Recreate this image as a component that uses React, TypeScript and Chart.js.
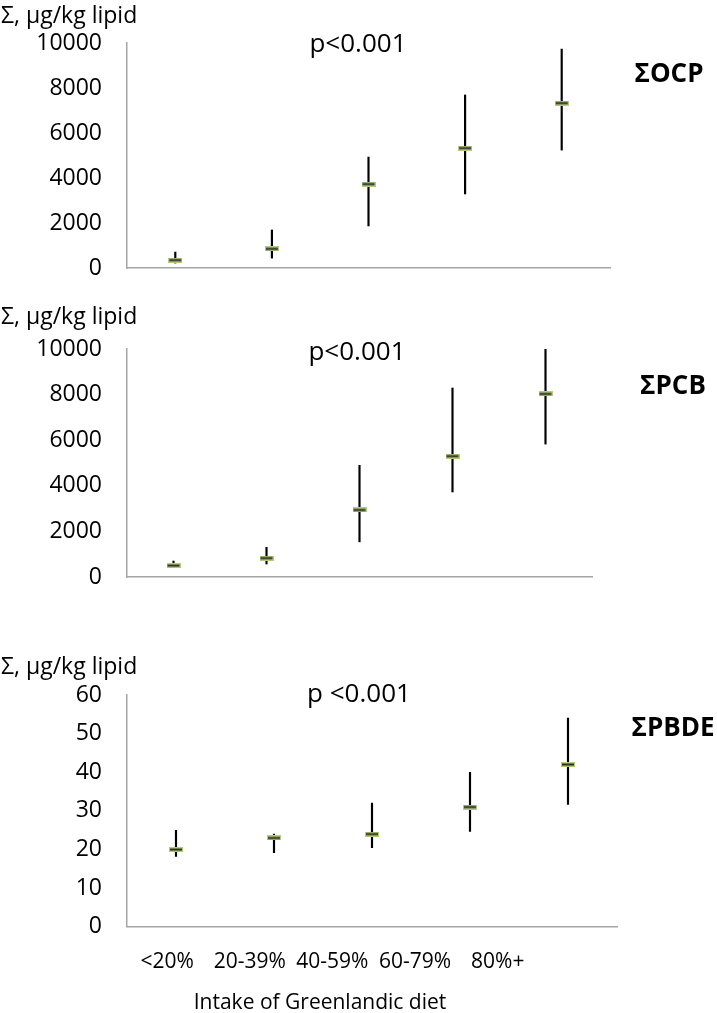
import React, { useEffect, useRef } from "react";
import { Chart, registerables } from "chart.js";
Chart.register(...registerables);

const categories = ["<20%", "20-39%", "40-59%", "60-79%", "80%+"];

const ocpMean = [350, 850, 3730, 5330, 7330];
const ocpLow = [220, 440, 1870, 3290, 5240];
const ocpHigh = [710, 1690, 4930, 7690, 9730];

const pcbMean = [500, 830, 2940, 5300, 8030];
const pcbLow = [440, 570, 1540, 3730, 5830];
const pcbHigh = [700, 1300, 4900, 8290, 10000];

const pbdeMean = [20, 23, 24, 31, 42];
const pbdeLow = [18.2, 19.2, 20.5, 24.7, 31.7];
const pbdeHigh = [25, 24, 32, 40, 54];

const yAxisLabel = "Σ, µg/kg lipid";
const pLabels = ["p<0.001", "p<0.001", "p <0.001"];
const seriesNames = ["ΣOCP", "ΣPCB", "ΣPBDE"];
const xTitle = "Intake of Greenlandic diet";

const FONT = "'Open Sans', sans-serif";

function makeMarker(): HTMLCanvasElement {
  const c = document.createElement("canvas");
  c.width = 14;
  c.height = 5;
  const ctx = c.getContext("2d")!;
  ctx.fillStyle = "#b3cb7c";
  ctx.fillRect(0, 0, 14, 5);
  ctx.fillStyle = "#2a2d1c";
  ctx.fillRect(1, 1.5, 12, 2);
  return c;
}

type PanelProps = {
  top: number;
  height: number;
  pad: { top: number; right: number; bottom: number };
  mean: number[];
  low: number[];
  high: number[];
  yMax: number;
  yStep: number;
  showX: boolean;
};

const zeroPad = (axis: any) => {
  axis.paddingTop = 0;
  axis.paddingBottom = 0;
  axis.paddingLeft = 0;
  axis.paddingRight = 0;
};

function Panel(p: PanelProps) {
  const ref = useRef<HTMLCanvasElement>(null);
  useEffect(() => {
    if (!ref.current) return;
    const marker = makeMarker();
    const scales: any = {
      x: {
        type: "category",
        offset: true,
        grid: { display: false, drawTicks: false },
        border: { display: true, color: "#a6a6a6", width: 1.5 },
        ticks: { display: false },
        afterFit: zeroPad,
      },
      y: {
        min: 0,
        max: p.yMax,
        grid: { display: false, drawTicks: false },
        border: { display: true, color: "#a6a6a6", width: 1.5 },
        ticks: {
          stepSize: p.yStep,
          color: "#000",
          padding: 25,
          font: { family: FONT, size: 23 },
          callback: (v: any) => String(v),
        },
        afterFit: (axis: any) => {
          axis.width = 127;
          zeroPad(axis);
        },
      },
    };
    if (p.showX) {
      scales.x2 = {
        type: "linear",
        position: "bottom",
        bounds: "data",
        offset: false,
        min: -0.485,
        max: 5.443,
        grid: { display: false, drawTicks: false, offset: false },
        border: { display: false },
        afterBuildTicks: (axis: any) => {
          axis.ticks = categories.map((_, i) => ({ value: i }));
        },
        afterFit: zeroPad,
        ticks: {
          autoSkip: false,
          maxRotation: 0,
          color: "#000",
          padding: 23,
          font: { family: FONT, size: 21 },
          callback: (v: any) => categories[v as number] ?? "",
        },
      };
    }
    const chart = new Chart(ref.current, {
      type: "bar",
      data: {
        labels: categories,
        datasets: [
          {
            type: "line",
            data: p.mean,
            showLine: false,
            pointStyle: marker as any,
            pointRadius: 7,
            order: 0,
          } as any,
          {
            type: "bar",
            data: p.low.map((l, i) => [l, p.high[i]]),
            backgroundColor: "#000",
            borderWidth: 0,
            barThickness: 1.5,
            order: 1,
          } as any,
        ],
      },
      options: {
        animation: false,
        responsive: false,
        events: [],
        layout: { padding: { left: 0, top: p.pad.top, right: p.pad.right, bottom: p.pad.bottom } },
        plugins: { legend: { display: false }, tooltip: { enabled: false } },
        scales,
      },
    });
    return () => chart.destroy();
  }, []);
  return (
    <canvas
      ref={ref}
      width={717}
      height={p.height}
      style={{ position: "absolute", left: 0, top: p.top, width: 717, height: p.height }}
    />
  );
}

function Txt(props: { x: number; y: number; size: number; bold?: boolean; anchor?: "left" | "center"; children: any }) {
  return (
    <div
      style={{
        position: "absolute",
        left: props.x,
        top: props.y,
        transform: props.anchor === "left" ? "translate(0,-50%)" : "translate(-50%,-50%)",
        fontFamily: FONT,
        fontSize: props.size,
        fontWeight: props.bold ? 700 : 400,
        color: "#000",
        whiteSpace: "nowrap",
        lineHeight: 1,
      }}
    >
      {props.children}
    </div>
  );
}

export default function App() {
  return (
    <div style={{ position: "absolute", left: 0, top: 0, width: 717, height: 1013, background: "#fff", overflow: "hidden" }}>
      <Panel top={0} height={290} pad={{ top: 43, right: 107, bottom: 22 }} mean={ocpMean} low={ocpLow} high={ocpHigh} yMax={10000} yStep={2000} showX={false} />
      <Panel top={290} height={310} pad={{ top: 59, right: 125, bottom: 23 }} mean={pcbMean} low={pcbLow} high={pcbHigh} yMax={10000} yStep={2000} showX={false} />
      <Panel top={600} height={413} pad={{ top: 95, right: 100, bottom: 15 }} mean={pbdeMean} low={pbdeLow} high={pbdeHigh} yMax={60} yStep={10} showX={true} />

      <Txt x={1} y={14} size={23} anchor="left">{yAxisLabel}</Txt>
      <Txt x={1} y={315} size={23} anchor="left">{yAxisLabel}</Txt>
      <Txt x={1} y={665} size={23} anchor="left">{yAxisLabel}</Txt>

      <Txt x={358} y={42} size={26}>{pLabels[0]}</Txt>
      <Txt x={357} y={350} size={26}>{pLabels[1]}</Txt>
      <Txt x={359} y={692} size={26}>{pLabels[2]}</Txt>

      <Txt x={669} y={72} size={26} bold>{seriesNames[0]}</Txt>
      <Txt x={673} y={384} size={26} bold>{seriesNames[1]}</Txt>
      <Txt x={673} y={726} size={26} bold>{seriesNames[2]}</Txt>

      <Txt x={320} y={1001} size={21}>{xTitle}</Txt>
    </div>
  );
}
